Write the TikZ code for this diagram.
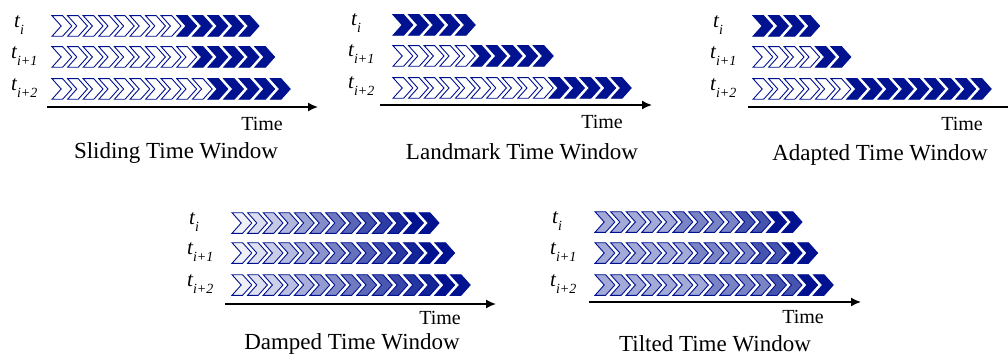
\documentclass[tikz,border=0pt]{standalone}
\usepackage{fontspec}
\setmainfont{Liberation Serif}
\usetikzlibrary{arrows.meta}
\definecolor{navy}{RGB}{0,18,143}

% one chevron, about 20 wide and 21 high, anchored at its left-middle point
\tikzset{
  chevline/.style={draw=navy,line width=0.9pt,line join=miter},
  pics/chev/.style={code={
    \filldraw[chevline,fill=#1] (0,-10.3) -- (10.6,-10.3) -- (19.8,0) -- (10.6,10.3) -- (0,10.3) -- (9.2,0) -- cycle;}},
  axis/.style={line width=1.6pt,-{Latex[length=10pt,width=9pt]}},
  plainaxis/.style={line width=1.6pt},
  rowlabel/.style={anchor=west,inner sep=0pt,font=\fontsize{21}{22}\selectfont\itshape},
  timelabel/.style={inner sep=0pt,font=\fontsize{20}{21}\selectfont},
  titlelabel/.style={inner sep=0pt,font=\fontsize{23}{24}\selectfont}
}

% a row of #3 chevrons from x=#1 at height #2, the first #4 of them hollow
\newcommand\chevrow[4]{%
  \foreach \k in {1,...,#3}{%
    \pgfmathtruncatemacro\isdark{\k>#4}%
    \ifnum\isdark=1 \def\fc{navy}\else\def\fc{white}\fi
    \path (#1+15.6*\k-15.6,#2) pic{chev=\fc};
  }}

% a row whose fill darkens steadily towards the newest chevron
\newcommand\dampedrow[3]{%
  \foreach \k in {1,...,#3}{%
    \pgfmathtruncatemacro\pc{min(100,6+94*(\k-1)/(#3-2))}%
    \path (#1+15.6*\k-15.6,#2) pic{chev=navy!\pc!white};
  }}

% a row whose fill darkens in coarse steps
\newcommand\tiltedrow[3]{%
  \foreach \k in {1,...,#3}{%
    \pgfmathtruncatemacro\pc{\k>#3-2 ? 100 : (\k>#3-4 ? 72 : (\k>#3-8 ? 52 : 36))}%
    \path (#1+15.6*\k-15.6,#2) pic{chev=navy!\pc!white};
  }}

\newcommand\tlab[1]{t\raisebox{-0.3em}{\fontsize{14}{14}\selectfont #1}}

\begin{document}
\begin{tikzpicture}[x=1pt,y=-1pt]
\useasboundingbox (0,0) rectangle (1008,358);

% ---------- sliding time window ----------
\node[rowlabel] (s0) at (14,25) {\tlab{i}};
\node[rowlabel] (s1) at (11,56) {\tlab{i+1}};
\node[rowlabel] (s2) at (11,88) {\tlab{i+2}};
\chevrow{52}{26}{13}{8}
\chevrow{52}{57}{14}{9}
\chevrow{52}{89}{15}{10}
\coordinate (sa) at (47,107);
\coordinate (sb) at (318,107);
\draw[axis] (sa) -- (sb);
\node[timelabel] (st) at (262,124) {Time};
\node[titlelabel] (sT) at (176,153) {Sliding Time Window};

% ---------- landmark time window ----------
\node[rowlabel] (l0) at (351,23) {\tlab{i}};
\node[rowlabel] (l1) at (348,54) {\tlab{i+1}};
\node[rowlabel] (l2) at (348,86) {\tlab{i+2}};
\chevrow{393}{25}{5}{0}
\chevrow{393}{56}{10}{5}
\chevrow{393}{88}{15}{10}
\coordinate (la) at (380,105);
\coordinate (lb) at (652,105);
\draw[axis] (la) -- (lb);
\node[timelabel] (lt) at (602,122) {Time};
\node[titlelabel] (lT) at (522,152) {Landmark Time Window};

% ---------- adapted time window ----------
\node[rowlabel] (a0) at (713,25) {\tlab{i}};
\node[rowlabel] (a1) at (710,56) {\tlab{i+1}};
\node[rowlabel] (a2) at (710,88) {\tlab{i+2}};
\chevrow{753}{26}{4}{0}
\chevrow{753}{57}{6}{4}
\chevrow{753}{89}{15}{6}
\coordinate (aa) at (748,107);
\coordinate (ab) at (1008,107);
\draw[plainaxis] (aa) -- (ab);
\node[timelabel] (at) at (962,124) {Time};
\node[titlelabel] (aT) at (880,155) {Adapted Time Window};

% ---------- damped time window ----------
\node[rowlabel] (d0) at (189,222) {\tlab{i}};
\node[rowlabel] (d1) at (187,252) {\tlab{i+1}};
\node[rowlabel] (d2) at (187,284) {\tlab{i+2}};
\dampedrow{232}{223}{13}
\dampedrow{232}{253}{14}
\dampedrow{232}{285}{15}
\coordinate (da) at (225,304);
\coordinate (db) at (496,304);
\draw[axis] (da) -- (db);
\node[timelabel] (dt) at (440,318) {Time};
\node[titlelabel] (dT) at (352,344) {Damped Time Window};

% ---------- tilted time window ----------
\node[rowlabel] (t0) at (552,221) {\tlab{i}};
\node[rowlabel] (t1) at (550,252) {\tlab{i+1}};
\node[rowlabel] (t2) at (550,284) {\tlab{i+2}};
\tiltedrow{595}{222}{13}
\tiltedrow{595}{253}{14}
\tiltedrow{595}{285}{15}
\coordinate (ta) at (589,302);
\coordinate (tb) at (861,302);
\draw[axis] (ta) -- (tb);
\node[timelabel] (tt) at (803,317) {Time};
\node[titlelabel] (tT) at (715,344) {Tilted Time Window};
\end{tikzpicture}
\end{document}
